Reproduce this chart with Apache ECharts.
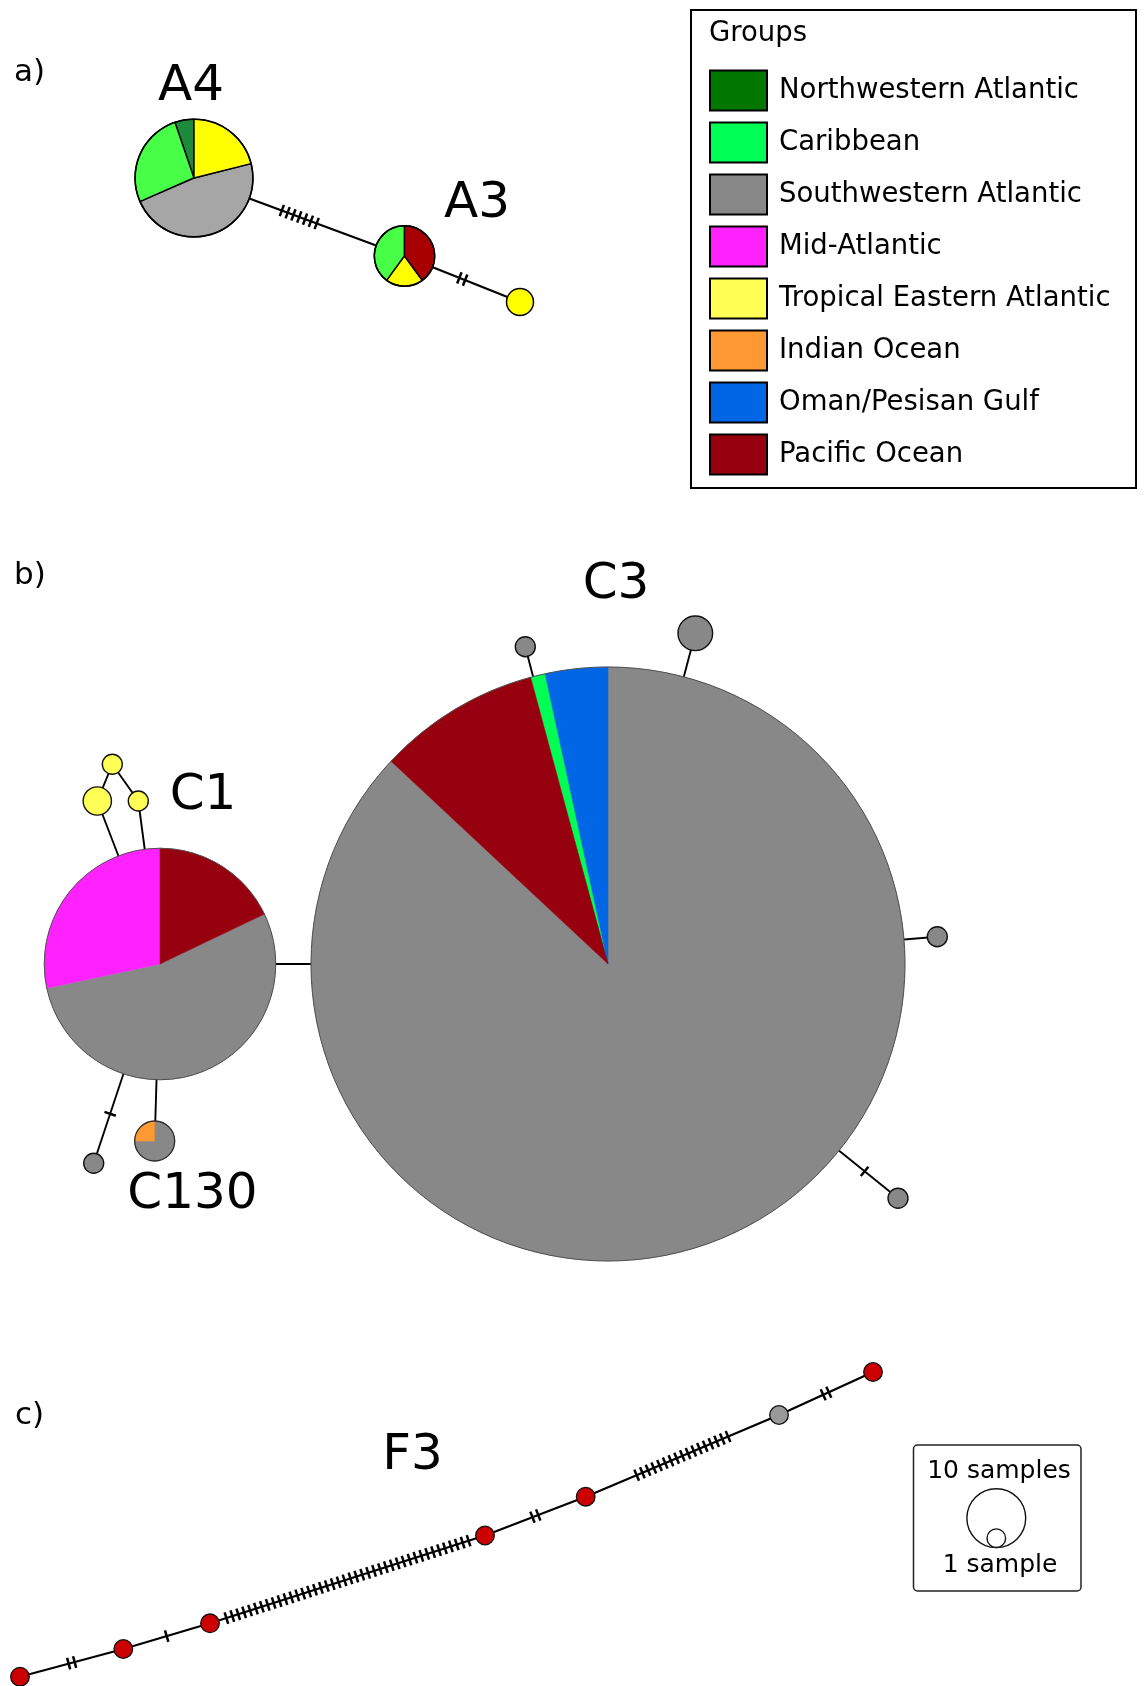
<!DOCTYPE html>
<html>
<head>
<meta charset="utf-8">
<title>Haplotype networks</title>
<script src="https://cdn.jsdelivr.net/npm/echarts@6/dist/echarts.min.js"></script>
<style>
  html, body { margin: 0; padding: 0; background: #fff; }
  #chart { width: 1144px; height: 1686px; }
</style>
</head>
<body>
<div id="chart"></div>
<script>
// ---- Data ---------------------------------------------------------------
// Sampling regions, in legend order
const groups = ['Northwestern Atlantic', 'Caribbean', 'Southwestern Atlantic', 'Mid-Atlantic',
  'Tropical Eastern Atlantic', 'Indian Ocean', 'Oman/Pesisan Gulf', 'Pacific Ocean'];

// a) lineage A: haplotype samples per region, slices clockwise from 12 o'clock
const hapIdsA = ['A4', 'A3', 'a1'];
const hapCountsA = [
  [['Tropical Eastern Atlantic', 4], ['Southwestern Atlantic', 9], ['Caribbean', 5], ['Northwestern Atlantic', 1]],
  [['Pacific Ocean', 2], ['Tropical Eastern Atlantic', 1], ['Caribbean', 2]],
  [['Tropical Eastern Atlantic', 1]]
];
// links: [from, to, hatch marks drawn on the link]
const linksA = [['A4', 'A3', 7], ['A3', 'a1', 2]];

// b) lineage C
const hapIdsB = ['C3', 'C1', 'C130', 'b1', 'b2', 'b3', 'b4', 'b5', 'b6', 'b7', 'b8'];
const hapCountsB = [
  [['Southwestern Atlantic', 767], ['Pacific Ocean', 78], ['Caribbean', 7], ['Oman/Pesisan Gulf', 30]],
  [['Pacific Ocean', 24], ['Southwestern Atlantic', 72], ['Mid-Atlantic', 38]],
  [['Southwestern Atlantic', 3], ['Indian Ocean', 1]],
  [['Tropical Eastern Atlantic', 2]],
  [['Tropical Eastern Atlantic', 1]],
  [['Tropical Eastern Atlantic', 1]],
  [['Southwestern Atlantic', 1]],
  [['Southwestern Atlantic', 1]],
  [['Southwestern Atlantic', 3]],
  [['Southwestern Atlantic', 1]],
  [['Southwestern Atlantic', 1]]
];
const linksB = [
  ['C1', 'C3', 0], ['C1', 'b1', 0], ['C1', 'b3', 0], ['b1', 'b2', 0], ['b2', 'b3', 0],
  ['C1', 'b4', 1], ['C1', 'C130', 0],
  ['C3', 'b5', 0], ['C3', 'b6', 0], ['C3', 'b7', 0], ['C3', 'b8', 1]
];

// c) lineage F
const hapIdsC = ['f1', 'f2', 'f3', 'f4', 'f5', 'f6', 'f7'];
const hapCountsC = [
  [['Pacific Ocean', 1]], [['Pacific Ocean', 1]], [['Pacific Ocean', 1]], [['Pacific Ocean', 1]],
  [['Pacific Ocean', 1]], [['Southwestern Atlantic', 1]], [['Pacific Ocean', 1]]
];
const linksC = [['f1', 'f2', 2], ['f2', 'f3', 1], ['f3', 'f4', 42], ['f4', 'f5', 2], ['f5', 'f6', 17], ['f6', 'f7', 2]];

// Size key of panel c
const keySamples = [10, 1];

// ---- Layout (network node centres, page units) --------------------------
const layoutA = { A4: [194, 178], A3: [404.5, 256], a1: [520, 302] };
const layoutB = {
  C3: [608, 964], C1: [160, 964], C130: [154.7, 1141],
  b1: [97.3, 801], b2: [112.3, 764.3], b3: [138.3, 801], b4: [93.7, 1163.3],
  b5: [525.3, 646.7], b6: [695.3, 633.3], b7: [937.3, 936.7], b8: [898, 1198.3]
};
const layoutC = {
  f1: [20, 1676.7], f2: [123.3, 1649], f3: [210, 1623.3], f4: [485, 1535.5],
  f5: [585.7, 1496.7], f6: [779, 1415], f7: [873, 1372]
};

// ---- Styles -------------------------------------------------------------
const FONT = '"DejaVu Sans", Verdana, sans-serif';
const legendColors = {
  'Northwestern Atlantic': '#007800', 'Caribbean': '#00FF55', 'Southwestern Atlantic': '#888888',
  'Mid-Atlantic': '#FF22FF', 'Tropical Eastern Atlantic': '#FFFF55', 'Indian Ocean': '#FF9933',
  'Oman/Pesisan Gulf': '#0066E6', 'Pacific Ocean': '#96000F'
};
const panelStyles = [
  { // a
    unit: 13.5,
    colors: { 'Northwestern Atlantic': '#1E8A3C', 'Caribbean': '#46FF46', 'Southwestern Atlantic': '#A6A6A6',
      'Tropical Eastern Atlantic': '#FFFF00', 'Pacific Ocean': '#A80000' },
    sliceStroke: '#000', sliceWidth: 1.4, edgeWidth: 2.2,
    outline: () => ['#000', 1.5]
  },
  { // b
    unit: 10, colors: legendColors, sliceStroke: null, edgeWidth: 1.9,
    outline: n => n >= 50 ? ['#505050', 1] : (n >= 4 ? ['#2a2a2a', 1.3] : ['#111', 1.4])
  },
  { // c
    unit: 9.3, colors: { 'Pacific Ocean': '#CC0000', 'Southwestern Atlantic': '#999999' },
    sliceStroke: null, edgeWidth: 2.2,
    outline: () => ['#111', 1.3]
  }
];
const HATCH_GAP = 6.2, HATCH_HALF = 6, HATCH_WIDTH = 2.5;

// ---- Build marks --------------------------------------------------------
const panels = [
  { ids: hapIdsA, counts: hapCountsA, links: linksA, layout: layoutA },
  { ids: hapIdsB, counts: hapCountsB, links: linksB, layout: layoutB },
  { ids: hapIdsC, counts: hapCountsC, links: linksC, layout: layoutC }
];

const sliceData = {};      // per region: slices of every haplotype
groups.forEach(g => { sliceData[g] = []; });
const nodeData = [];       // outlines
const edgeData = [];       // links

panels.forEach((p, pi) => {
  const st = panelStyles[pi];
  const info = {};
  p.ids.forEach((id, k) => {
    const parts = p.counts[k];
    const total = parts.reduce((s, d) => s + d[1], 0);
    const r = st.unit * Math.sqrt(total);
    const [x, y] = p.layout[id];
    info[id] = { x, y, r };
    let a = -Math.PI / 2;
    parts.forEach(([g, v]) => {
      const span = (v / total) * Math.PI * 2;
      sliceData[g].push({
        value: [x, y, r, a, a + span, pi],
        itemStyle: { color: st.colors[g] }
      });
      a += span;
    });
    const [oc, ow] = st.outline(total);
    nodeData.push({ value: [x, y, r, pi, total], oc, ow });
  });
  p.links.forEach(([s, t, n]) => {
    const A = info[s], B = info[t];
    edgeData.push([A.x, A.y, B.x, B.y, A.r, B.r, n, pi]);
  });
});

// ---- Render functions ---------------------------------------------------
function renderSlice(params, api) {
  const c = api.coord([api.value(0), api.value(1)]);
  const r = api.size([api.value(2), 0])[0];
  const a0 = api.value(3), a1 = api.value(4);
  const st = panelStyles[api.value(5)];
  const fill = api.visual('color');
  if (a1 - a0 > Math.PI * 2 - 1e-6) {
    return { type: 'circle', shape: { cx: c[0], cy: c[1], r }, style: { fill } };
  }
  return {
    type: 'sector',
    shape: { cx: c[0], cy: c[1], r0: 0, r, startAngle: a0, endAngle: a1, clockwise: true },
    style: st.sliceStroke
      ? { fill, stroke: st.sliceStroke, lineWidth: st.sliceWidth, lineJoin: 'round' }
      : { fill, stroke: fill, lineWidth: 0.5 }
  };
}

function renderOutline(params, api) {
  const c = api.coord([api.value(0), api.value(1)]);
  const r = api.size([api.value(2), 0])[0];
  const d = nodeData[params.dataIndex];
  return { type: 'circle', shape: { cx: c[0], cy: c[1], r }, style: { fill: 'none', stroke: d.oc, lineWidth: d.ow } };
}

function renderEdge(params, api) {
  const p1 = api.coord([api.value(0), api.value(1)]);
  const p2 = api.coord([api.value(2), api.value(3)]);
  const r1 = api.size([api.value(4), 0])[0];
  const r2 = api.size([api.value(5), 0])[0];
  const n = api.value(6);
  const st = panelStyles[api.value(7)];
  const dx = p2[0] - p1[0], dy = p2[1] - p1[1];
  const L = Math.hypot(dx, dy);
  const ux = dx / L, uy = dy / L, nx = -uy, ny = ux;
  const children = [{
    type: 'line', shape: { x1: p1[0], y1: p1[1], x2: p2[0], y2: p2[1] },
    style: { stroke: '#000', lineWidth: st.edgeWidth }
  }];
  if (n > 0) {
    const span = (n - 1) * HATCH_GAP;
    let mid = L / 2;
    if (mid - span / 2 < r1 + 3 || mid + span / 2 > L - r2 - 3) mid = (r1 + L - r2) / 2;
    for (let i = 0; i < n; i++) {
      const d = mid - span / 2 + i * HATCH_GAP;
      const cx = p1[0] + ux * d, cy = p1[1] + uy * d;
      children.push({
        type: 'line',
        shape: { x1: cx - nx * HATCH_HALF, y1: cy - ny * HATCH_HALF, x2: cx + nx * HATCH_HALF, y2: cy + ny * HATCH_HALF },
        style: { stroke: '#000', lineWidth: HATCH_WIDTH }
      });
    }
  }
  return { type: 'group', children };
}

// ---- Annotations --------------------------------------------------------
const hapLabels = [
  { text: 'A4', x: 191, y: 87 }, { text: 'A3', x: 477, y: 204 },
  { text: 'C3', x: 616, y: 585 }, { text: 'C1', x: 203, y: 796 },
  { text: 'C130', x: 192.5, y: 1195 }, { text: 'F3', x: 412.5, y: 1456 }
];
const panelTags = [{ text: 'a)', x: 14, y: 73 }, { text: 'b)', x: 14, y: 576 }, { text: 'c)', x: 15, y: 1416 }];

const unitC = panelStyles[2].unit;
const bigR = unitC * Math.sqrt(keySamples[0]);
const smallR = unitC * Math.sqrt(keySamples[1]);
const keyBottom = 1547.5;

const graphics = [
  // group legend frame and title
  { type: 'rect', shape: { x: 691, y: 10, width: 445, height: 478 }, style: { fill: 'none', stroke: '#000', lineWidth: 2 }, z: 10 },
  { type: 'text', x: 709, y: 34, style: { text: 'Groups', font: '27.5px ' + FONT, fill: '#000', align: 'left', verticalAlign: 'middle' }, z: 10 },
  // size key
  { type: 'rect', shape: { x: 913.5, y: 1445, width: 167.5, height: 146, r: 4 }, style: { fill: 'none', stroke: '#222', lineWidth: 1.5 }, z: 10 },
  { type: 'text', x: 999, y: 1471, style: { text: keySamples[0] + ' samples', font: '25px ' + FONT, fill: '#000', align: 'center', verticalAlign: 'middle' }, z: 10 },
  { type: 'circle', shape: { cx: 996.3, cy: keyBottom - bigR, r: bigR }, style: { fill: '#fff', stroke: '#111', lineWidth: 1.4 }, z: 10 },
  { type: 'circle', shape: { cx: 996.3, cy: keyBottom - smallR, r: smallR }, style: { fill: '#fff', stroke: '#111', lineWidth: 1.4 }, z: 11 },
  { type: 'text', x: 1000, y: 1565, style: { text: keySamples[1] + ' sample', font: '25px ' + FONT, fill: '#000', align: 'center', verticalAlign: 'middle' }, z: 10 }
];
hapLabels.forEach(l => graphics.push({
  type: 'text', x: l.x, y: l.y, z: 10,
  style: { text: l.text, font: '50px ' + FONT, fill: '#000', align: 'center', verticalAlign: 'middle' }
}));
panelTags.forEach(l => graphics.push({
  type: 'text', x: l.x, y: l.y, z: 10,
  style: { text: l.text, font: '31px ' + FONT, fill: '#000', align: 'left', verticalAlign: 'middle' }
}));

// ---- Chart --------------------------------------------------------------
const chart = echarts.init(document.getElementById('chart'), null, { renderer: 'canvas' });
const series = [
  {
    type: 'custom', name: 'links', coordinateSystem: 'cartesian2d', z: 1, silent: true,
    encode: { x: [0, 2], y: [1, 3] }, data: edgeData, renderItem: renderEdge
  }
];
groups.forEach(g => series.push({
  type: 'custom', name: g, coordinateSystem: 'cartesian2d', z: 2, silent: true,
  itemStyle: { color: legendColors[g] },
  encode: { x: 0, y: 1 }, data: sliceData[g], renderItem: renderSlice
}));
series.push({
  type: 'custom', name: 'outlines', coordinateSystem: 'cartesian2d', z: 3, silent: true,
  encode: { x: 0, y: 1 }, data: nodeData.map(d => d.value), renderItem: renderOutline
});

chart.setOption({
  animation: false,
  backgroundColor: '#fff',
  grid: { left: 0, right: 0, top: 0, bottom: 0 },
  xAxis: { type: 'value', min: 0, max: 1144, show: false },
  yAxis: { type: 'value', min: 0, max: 1686, inverse: true, show: false },
  legend: {
    data: groups, orient: 'vertical', left: 709, top: 69.5, padding: 0,
    itemGap: 10, itemWidth: 57, itemHeight: 40, icon: 'rect', selectedMode: false,
    itemStyle: { borderColor: '#000', borderWidth: 2 },
    textStyle: { fontFamily: FONT, fontSize: 27.5, color: '#000', padding: [0, 0, 0, 7] }
  },
  graphic: graphics,
  series
});
</script>
</body>
</html>
